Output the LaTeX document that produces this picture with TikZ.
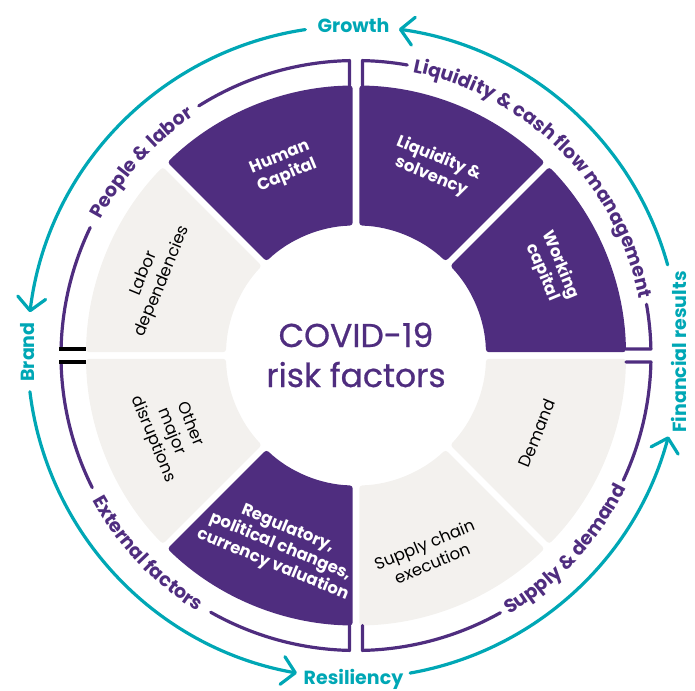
\documentclass[tikz,border=0pt]{standalone}
\usepackage{fontspec}
\setmainfont{Poppins}
\newfontfamily\titlefont[FakeBold=0.7]{Poppins}
\usetikzlibrary{arrows.meta,decorations.text}
\definecolor{gtpurple}{HTML}{4F2D7F}
\definecolor{gtteal}{HTML}{00A7B5}
\definecolor{gtgray}{HTML}{F3F1EE}
\newcommand\lblfont{\fontsize{19}{19}\selectfont\bfseries}
\begin{document}
\begin{tikzpicture}[
  bracketline/.style={draw=gtpurple, line width=3.2pt, line join=round, line cap=round},
  blacktick/.style={draw=black, line width=3.2pt},
  tealline/.style={draw=gtteal, line width=3.2pt, line cap=round, -{Straight Barb[round,length=13pt,width=28pt]}},
  teallabel/.style={text=gtteal, font=\fontsize{19}{19}\selectfont\bfseries, inner sep=0pt, text height=13.3pt, text depth=0pt},
  whitetext/.style={text=white, font=\fontsize{16.5}{19.5}\selectfont\bfseries, align=center, inner sep=0pt},
  graytext/.style={text=black, font=\fontsize{16.5}{20}\selectfont, align=center, inner sep=0pt},
  titletext/.style={text=gtpurple, font=\titlefont\fontsize{33}{40}\selectfont, inner sep=0pt, anchor=base},
  curvedlabel/.style={decorate, decoration={text along path, text align=center, text color=gtpurple, text={|\lblfont|#1}}},
]
\useasboundingbox (-356pt,-334.5pt) rectangle (339pt,355.5pt);

% ---------- segments ----------
\foreach \a/\c in {0/gtpurple, 45/gtpurple, 90/gtpurple, 135/gtgray, 180/gtgray, 225/gtpurple, 270/gtgray, 315/gtgray} {
  \pgfmathsetmacro\sa{\a+0.70}
  \pgfmathsetmacro\ea{\a+45-0.70}
  \pgfmathsetmacro\si{\a+45-1.455}
  \pgfmathsetmacro\ei{\a+1.455}
  \fill[\c, rounded corners=3pt] (\sa:270pt) arc[start angle=\sa, end angle=\ea, radius=270pt]
     -- (\si:130pt) arc[start angle=\si, end angle=\ei, radius=130pt] -- cycle;
}

% ---------- centre title ----------
\node[titletext] (covid) at (0pt,8.5pt) {COVID-19};
\node[titletext] (risk) at (0pt,-31.5pt) {risk factors};

% ---------- segment texts ----------
\node[whitetext, rotate=22.5] (hc) at (111:202pt) {Human\\Capital};
\node[whitetext, rotate=-22.5] (ls) at (67.2:204pt) {Liquidity \&\\solvency};
\node[whitetext, rotate=-67.5] (wc) at (24:214pt) {Working\\capital};
\node[graytext, rotate=67.5] (dm) at (-23.3:197pt) {Demand};
\node[graytext, rotate=22.5] (sc) at (-70:211pt) {Supply chain\\execution};
\node[whitetext, rotate=-22.5] (rp) at (248.4:206pt) {Regulatory,\\political changes,\\currency valuation};
\node[graytext, rotate=-67.5] (om) at (202.5:200pt) {Other\\major\\disruptions};
\node[graytext, rotate=67.5] (ld) at (159:217pt) {Labor\\dependencies};

% ---------- bracket: People & labor ----------
\path[curvedlabel={People {\&} labor}] (175:289pt) arc[start angle=175, end angle=101, radius=289pt];
\draw[bracketline] (178.74:295pt) arc[start angle=178.74, end angle=154.3, radius=295pt];
\draw[bracketline] (122.2:295pt) arc[start angle=122.2, end angle=91.26, radius=295pt] -- (-6.5pt,270pt);
\draw[blacktick] (-296.5pt,6.5pt) -- (-270pt,6.5pt);

% ---------- bracket: Liquidity & cash flow management ----------
\path[curvedlabel={Liquidity {\&} cash flow management}] (88:289pt) arc[start angle=88, end angle=2, radius=289pt];
\draw[bracketline] (6.5pt,270pt) -- (88.74:295pt) arc[start angle=88.74, end angle=80, radius=295pt];
\draw[bracketline] (10:295pt) arc[start angle=10, end angle=1.26, radius=295pt] -- (270pt,6.5pt);

% ---------- bracket: External factors ----------
\path[curvedlabel={External factors}] (185:301pt) arc[start angle=185, end angle=262.1, radius=301pt];
\draw[bracketline] (181.26:295pt) arc[start angle=181.26, end angle=206.6, radius=295pt];
\draw[bracketline] (240.5:295pt) arc[start angle=240.5, end angle=268.74, radius=295pt] -- (-6.5pt,-270pt);
\draw[blacktick] (-296.5pt,-6.5pt) -- (-270pt,-6.5pt);

% ---------- bracket: Supply & demand ----------
\path[curvedlabel={Supply {\&} demand}] (275:301pt) arc[start angle=275, end angle=359.3, radius=301pt];
\draw[bracketline] (6.5pt,-270pt) -- (271.26:295pt) arc[start angle=271.26, end angle=299.3, radius=295pt];
\draw[bracketline] (335:295pt) arc[start angle=335, end angle=358.74, radius=295pt] -- (270pt,-6.5pt);

% ---------- teal cycle ----------
\begin{scope}[shift={(-2.5pt,3.5pt)}]
  \node[teallabel] (growth) at (90:326pt) {Growth};
  \node[teallabel, rotate=90] (brand) at (180:326pt) {Brand};
  \node[teallabel] (resil) at (270:326pt) {Resiliency};
  \node[teallabel, rotate=90] (finres) at (0:326pt) {Financial results};
  \draw[tealline] (15.5:326pt) arc[start angle=15.5, end angle=82, radius=326pt];
  \draw[tealline] (98.5:326pt) arc[start angle=98.5, end angle=173, radius=326pt];
  \draw[tealline] (187:326pt) arc[start angle=187, end angle=260, radius=326pt];
  \draw[tealline] (280:326pt) arc[start angle=280, end angle=345, radius=326pt];
\end{scope}
\end{tikzpicture}
\end{document}
